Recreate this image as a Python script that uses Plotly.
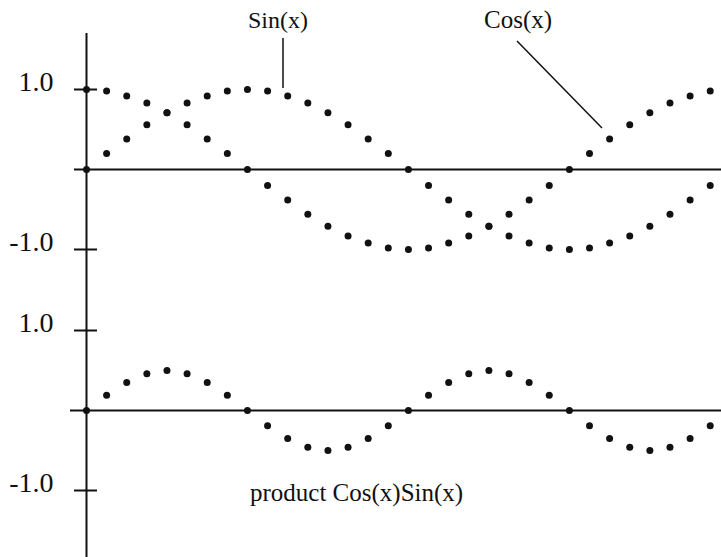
import plotly.graph_objects as go

# ---- data ----
steps = list(range(32))  # sample index, pi/16 apart
cos_vals = [1.00, 0.98, 0.92, 0.83, 0.71, 0.56, 0.38, 0.20, 0.00, -0.20, -0.38, -0.56,
            -0.71, -0.83, -0.92, -0.98, -1.00, -0.98, -0.92, -0.83, -0.71, -0.56, -0.38,
            -0.20, 0.00, 0.20, 0.38, 0.56, 0.71, 0.83, 0.92, 0.98]
sin_vals = [0.00, 0.20, 0.38, 0.56, 0.71, 0.83, 0.92, 0.98, 1.00, 0.98, 0.92, 0.83,
            0.71, 0.56, 0.38, 0.20, 0.00, -0.20, -0.38, -0.56, -0.71, -0.83, -0.92,
            -0.98, -1.00, -0.98, -0.92, -0.83, -0.71, -0.56, -0.38, -0.20]
prod_vals = [0.00, 0.19, 0.35, 0.46, 0.50, 0.46, 0.35, 0.19, 0.00, -0.19, -0.35, -0.46,
             -0.50, -0.46, -0.35, -0.19, 0.00, 0.19, 0.35, 0.46, 0.50, 0.46, 0.35, 0.19,
             0.00, -0.19, -0.35, -0.46, -0.50, -0.46, -0.35, -0.19]
tick_vals = [-1, 1]
tick_text = ["-1.0", "1.0"]

W, H = 721, 557
FONT = "Liberation Serif"
INK = "#111111"

# pixel geometry
x0_px, step_px = 86.5, 20.12
top_zero_px, bot_zero_px, unit_px = 169.5, 410.5, 80.0

x_range = [-x0_px / step_px, (W - x0_px) / step_px]
y_range = [(top_zero_px - H) / unit_px, top_zero_px / unit_px]
y2_range = [(bot_zero_px - H) / unit_px, bot_zero_px / unit_px]

marker = dict(size=7, color=INK)
fig = go.Figure()
fig.add_trace(go.Scatter(x=steps, y=cos_vals, mode="markers", marker=marker,
                         name="Cos(x)", yaxis="y"))
fig.add_trace(go.Scatter(x=steps, y=sin_vals, mode="markers", marker=marker,
                         name="Sin(x)", yaxis="y"))
fig.add_trace(go.Scatter(x=steps, y=prod_vals, mode="markers", marker=marker,
                         name="product", yaxis="y2"))

def px_x(p):
    return p / W

def px_y(p):
    return 1 - p / H

shapes = []
# vertical axis
shapes.append(dict(type="line", xref="x", yref="paper", x0=0, x1=0,
                   y0=0, y1=px_y(33), line=dict(color=INK, width=2)))
# zero lines
shapes.append(dict(type="line", xref="x", yref="y", x0=(74 - x0_px) / step_px,
                   x1=x_range[1], y0=0, y1=0, line=dict(color=INK, width=2)))
shapes.append(dict(type="line", xref="x", yref="y2", x0=(70 - x0_px) / step_px,
                   x1=x_range[1], y0=0, y1=0, line=dict(color=INK, width=2)))
# cross ticks
tl, tr = (74 - x0_px) / step_px, (97 - x0_px) / step_px
for yr in ("y", "y2"):
    for v in tick_vals:
        shapes.append(dict(type="line", xref="x", yref=yr, x0=tl, x1=tr, y0=v, y1=v,
                           line=dict(color=INK, width=2)))
# label pointers
shapes.append(dict(type="line", xref="paper", yref="paper", x0=px_x(283), x1=px_x(283),
                   y0=px_y(38), y1=px_y(88), line=dict(color=INK, width=1.5)))
shapes.append(dict(type="line", xref="paper", yref="paper", x0=px_x(517), x1=px_x(602),
                   y0=px_y(41), y1=px_y(128), line=dict(color=INK, width=1.5)))

annotations = [
    dict(text="Sin(x)", x=px_x(278), y=px_y(20), xref="paper", yref="paper",
         showarrow=False, xanchor="center", yanchor="middle",
         font=dict(family=FONT, size=24, color=INK)),
    dict(text="Cos(x)", x=px_x(518), y=px_y(20), xref="paper", yref="paper",
         showarrow=False, xanchor="center", yanchor="middle",
         font=dict(family=FONT, size=25, color=INK)),
    dict(text="product Cos(x)Sin(x)", x=px_x(356), y=px_y(493), xref="paper", yref="paper",
         showarrow=False, xanchor="center", yanchor="middle",
         font=dict(family=FONT, size=25, color=INK)),
]

yax_common = dict(tickvals=tick_vals, ticktext=tick_text, showgrid=False, zeroline=False,
                  showline=False, ticks="", anchor="free", position=x0_px / W, side="left",
                  ticklabelstandoff=33, ticklabelshift=-8,
                  tickfont=dict(family=FONT, size=28, color=INK), fixedrange=True)

fig.update_layout(
    width=W, height=H, margin=dict(l=0, r=0, t=0, b=0),
    paper_bgcolor="white", plot_bgcolor="white", showlegend=False,
    xaxis=dict(range=x_range, visible=False, domain=[0, 1]),
    yaxis=dict(range=y_range, domain=[0, 1], **yax_common),
    yaxis2=dict(range=y2_range, overlaying="y", **yax_common),
    shapes=shapes, annotations=annotations,
)

fig.write_html("out.html")
